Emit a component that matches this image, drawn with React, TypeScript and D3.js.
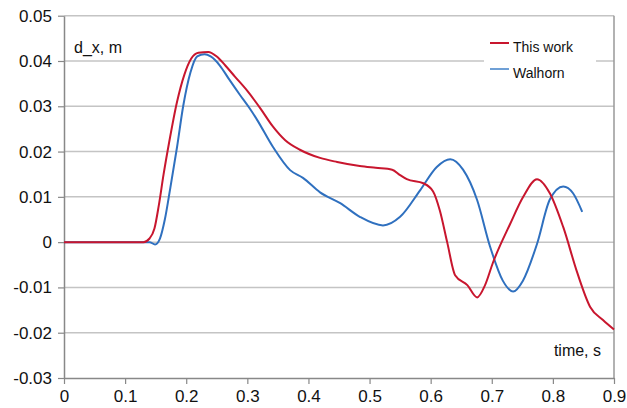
import React, { useEffect, useRef } from 'react';
import * as d3 from 'd3';

// time (s) and displacement d_x (m)
const redTime = [0, 0.05, 0.1, 0.13, 0.14, 0.148, 0.155, 0.163, 0.172, 0.185, 0.197, 0.208, 0.22, 0.236, 0.25, 0.264, 0.28, 0.3, 0.321, 0.342, 0.362, 0.386, 0.419, 0.447, 0.484, 0.51, 0.537, 0.55, 0.561, 0.588, 0.604, 0.615, 0.627, 0.64, 0.66, 0.676, 0.689, 0.702, 0.73, 0.751, 0.774, 0.795, 0.817, 0.84, 0.861, 0.882, 0.9];
const redValue = [0, 0, 0, 0, 0.0008, 0.003, 0.008, 0.015, 0.022, 0.031, 0.037, 0.0405, 0.0418, 0.042, 0.041, 0.039, 0.0365, 0.0334, 0.0296, 0.0255, 0.0225, 0.0204, 0.0186, 0.0177, 0.0168, 0.0164, 0.016, 0.0148, 0.0139, 0.013, 0.0112, 0.007, 0, -0.0073, -0.0095, -0.0122, -0.0095, -0.0045, 0.004, 0.0099, 0.0139, 0.0108, 0.0033, -0.0068, -0.0143, -0.0172, -0.0193];

const blueTime = [0, 0.05, 0.1, 0.14, 0.149, 0.157, 0.165, 0.174, 0.185, 0.195, 0.207, 0.218, 0.23, 0.24, 0.255, 0.27, 0.288, 0.304, 0.316, 0.342, 0.37, 0.391, 0.419, 0.452, 0.484, 0.522, 0.55, 0.583, 0.61, 0.632, 0.653, 0.676, 0.697, 0.718, 0.735, 0.751, 0.774, 0.795, 0.817, 0.833, 0.848];
const blueValue = [0, 0, 0, 0, -0.0005, 0.0008, 0.005, 0.012, 0.021, 0.03, 0.0375, 0.041, 0.0415, 0.041, 0.039, 0.036, 0.0325, 0.0295, 0.027, 0.021, 0.0159, 0.0142, 0.011, 0.0086, 0.0056, 0.0037, 0.0056, 0.0115, 0.0166, 0.0183, 0.016, 0.0093, -0.0009, -0.0085, -0.0109, -0.0085, -0.0004, 0.0094, 0.0123, 0.0108, 0.0067];

const xTicks = [0, 0.1, 0.2, 0.3, 0.4, 0.5, 0.6, 0.7, 0.8, 0.9];
const yTicks = [-0.03, -0.02, -0.01, 0, 0.01, 0.02, 0.03, 0.04, 0.05];
const seriesNames = ['This work', 'Walhorn'];

const W = 627;
const H = 408;
const margin = { top: 15.7, right: 13, bottom: 30, left: 64 };
const font = 'Arial, "Liberation Sans", sans-serif';

export default function App() {
    const ref = useRef<SVGSVGElement>(null);

    useEffect(() => {
        const svg = d3.select(ref.current);
        svg.selectAll('*').remove();

        const x = d3.scaleLinear().domain([0, 0.9]).range([margin.left, W - margin.right]);
        const y = d3.scaleLinear().domain([-0.03, 0.05]).range([H - margin.bottom, margin.top]);

        // gridlines
        svg.append('g')
            .selectAll('line')
            .data(yTicks.filter((d) => d > -0.03))
            .enter()
            .append('line')
            .attr('x1', x(0))
            .attr('x2', x(0.9))
            .attr('y1', (d) => y(d))
            .attr('y2', (d) => y(d))
            .attr('stroke', '#c4c4c4')
            .attr('stroke-width', 1.5);

        // right border
        svg.append('line')
            .attr('x1', x(0.9))
            .attr('x2', x(0.9))
            .attr('y1', y(0.05))
            .attr('y2', y(-0.03))
            .attr('stroke', '#999')
            .attr('stroke-width', 1.5);

        const xAxis = svg.append('g')
            .attr('transform', 'translate(0,' + y(-0.03) + ')')
            .call(d3.axisBottom(x).tickValues(xTicks).tickSize(6).tickSizeOuter(0).tickPadding(6).tickFormat((d) => String(+d)));
        const yAxis = svg.append('g')
            .attr('transform', 'translate(' + x(0) + ',0)')
            .call(d3.axisLeft(y).tickValues(yTicks).tickSize(6).tickSizeOuter(0).tickPadding(6).tickFormat((d) => String(+d)));

        [xAxis, yAxis].forEach((a) => {
            a.selectAll('path').attr('stroke', '#888').attr('stroke-width', 1.5);
            a.selectAll('line').attr('stroke', '#888').attr('stroke-width', 1.2);
            a.selectAll('text').attr('fill', '#111').style('font-family', font).style('font-size', '17px');
        });

        const line = d3
            .line<[number, number]>()
            .x((d) => x(d[0]))
            .y((d) => y(d[1]))
            .curve(d3.curveMonotoneX);

        const redData = redTime.map((t, i) => [t, redValue[i]] as [number, number]);
        const blueData = blueTime.map((t, i) => [t, blueValue[i]] as [number, number]);

        svg.append('path')
            .datum(blueData)
            .attr('d', line)
            .attr('fill', 'none')
            .attr('stroke', '#2f70bf')
            .attr('stroke-width', 2);
        svg.append('path')
            .datum(redData)
            .attr('d', line)
            .attr('fill', 'none')
            .attr('stroke', '#c8162e')
            .attr('stroke-width', 2);

        // axis titles
        svg.append('text')
            .attr('x', 74)
            .attr('y', 53)
            .text('d_x,  m')
            .style('font-family', font)
            .style('font-size', '16px')
            .attr('fill', '#111');
        svg.append('text')
            .attr('x', 601)
            .attr('y', 356)
            .attr('text-anchor', 'end')
            .text('time,  s')
            .style('font-family', font)
            .style('font-size', '16px')
            .attr('fill', '#111');

        // legend
        const legendColors = ['#c8162e', '#6fa0d6'];
        svg.append('rect')
            .attr('x', 484)
            .attr('y', 30)
            .attr('width', 112)
            .attr('height', 54)
            .attr('fill', '#fff');
        const lg = svg.selectAll('.lg').data(seriesNames).enter().append('g').attr('class', 'lg')
            .attr('transform', (d, i) => 'translate(490,' + (43 + i * 26) + ')');
        lg.append('line')
            .attr('x1', 0)
            .attr('x2', 19)
            .attr('stroke', (d, i) => legendColors[i])
            .attr('stroke-width', 2);
        lg.append('text')
            .attr('x', 23)
            .attr('y', 9)
            .text((d) => d)
            .style('font-family', font)
            .style('font-size', '14px')
            .attr('fill', '#111');
    }, []);

    return (
        <svg
            ref={ref}
            width={W}
            height={H}
            style={{ position: 'absolute', left: 0, top: 0, background: '#fff' }}
        />
    );
}
